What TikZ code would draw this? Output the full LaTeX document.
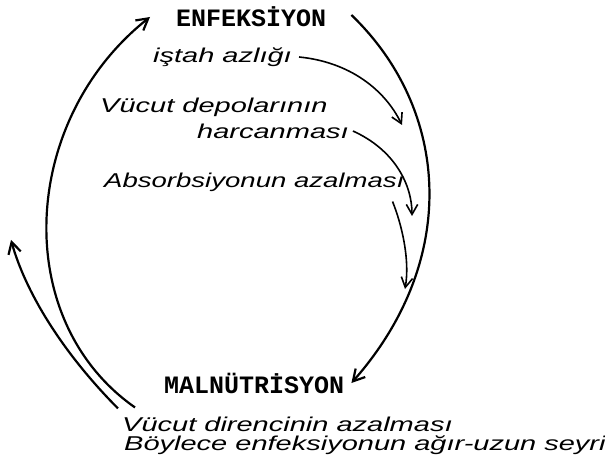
\documentclass[tikz,border=0pt]{standalone}
\usepackage{fontspec}
\setmainfont{Liberation Sans}
\newfontfamily\typewriter{Liberation Mono}
\newfontfamily\handwriting{Liberation Sans Italic}[FakeStretch=1.45]
\usetikzlibrary{arrows.meta, positioning}

\begin{document}
\begin{tikzpicture}[
    x=1pt, y=-1pt,
    typed/.style={font=\typewriter\bfseries\fontsize{25}{25}\selectfont, inner sep=0pt, anchor=west},
    hand/.style={font=\handwriting\fontsize{20}{20}\selectfont, inner sep=0pt, anchor=west},
    cause/.style={-{Straight Barb[length=3.5mm, width=4mm]}, line width=1.6pt},
    mainflow/.style={-{Straight Barb[length=4mm, width=4.5mm]}, line width=2.2pt}
]
    \useasboundingbox (0,0) rectangle (605,465);

    \node[typed] (enf) at (176,17) {ENFEKSİYON};
    \node[typed] (maln) at (164,383) {MALNÜTRİSYON};

    \node[hand] (istah) at (153,57) {iştah azlığı};
    \node[hand] (depo) at (100,107) {Vücut depolarının};
    \node[hand] (harc) at (197,131) {harcanması};
    \node[hand, xscale=0.95, transform shape] (absorb) at (104,182) {Absorbsiyonun azalması};
    \node[hand] (direnc) at (122,424) {Vücut direncinin azalması};
    \node[hand] (seyir) at (124,445) {Böylece enfeksiyonun ağır-uzun seyri};

    \coordinate (istah tip) at (402,125);
    \coordinate (harc tip) at (412,216);
    \coordinate (absorb tip) at (405,289);
    \coordinate (back tip) at (11,240);

    % ENFEKSIYON -> MALNUTRISYON
    \draw[mainflow] ([xshift=25pt, yshift=2pt]enf.east) .. controls (450,110) and (460,260) .. ([xshift=7pt]maln.east);
    % MALNUTRISYON -> ENFEKSIYON
    \draw[mainflow] ([xshift=13pt, yshift=9pt]direnc.north west) .. controls (10,320) and (20,120) .. ([xshift=-26pt]enf.west);
    \draw[mainflow] ([xshift=-4pt, yshift=8pt]direnc.north west) .. controls (60,350) and (25,290) .. (back tip);

    \draw[cause] ([xshift=7pt]istah.east) .. controls (350,62) and (385,90) .. (istah tip);
    \draw[cause] ([xshift=4pt]harc.east) .. controls (395,150) and (412,185) .. (harc tip);
    \draw[cause] ([xshift=-12pt, yshift=-10pt]absorb.south east) .. controls (402,225) and (410,260) .. (absorb tip);
\end{tikzpicture}
\end{document}
